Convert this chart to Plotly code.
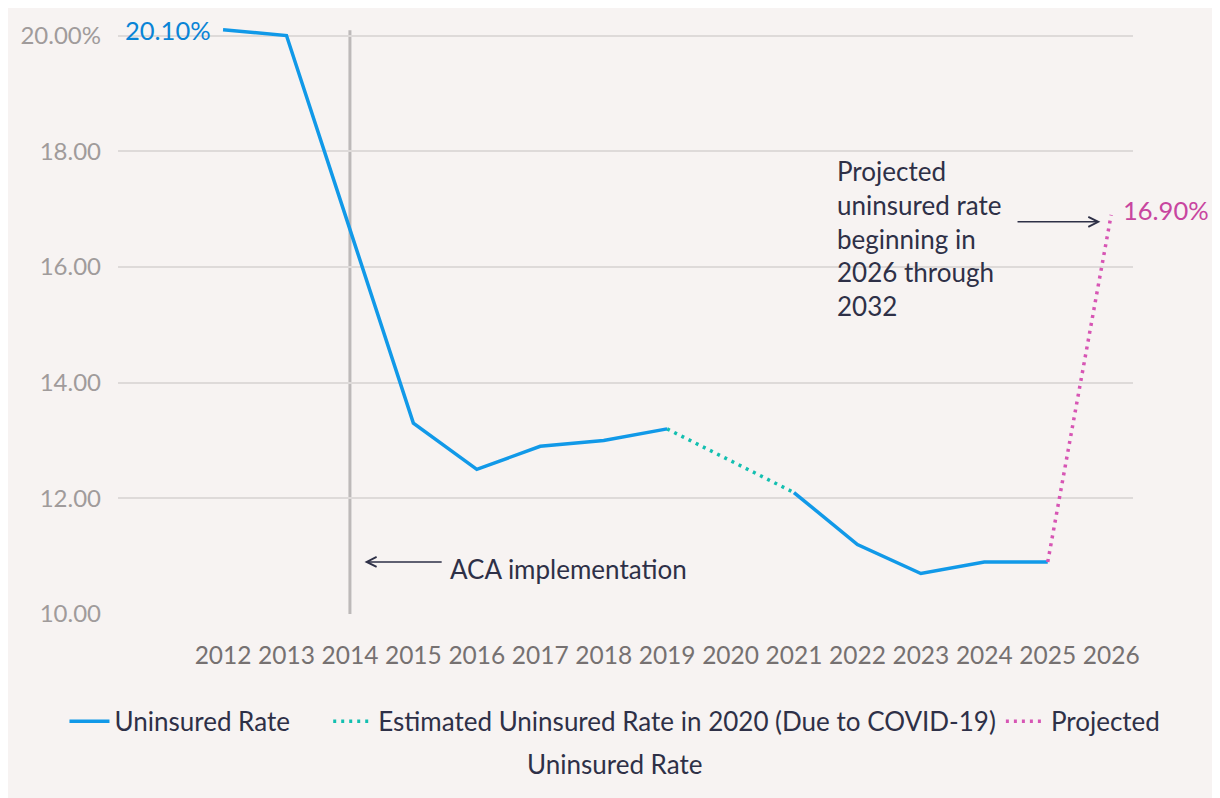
import plotly.graph_objects as go

years = [2012, 2013, 2014, 2015, 2016, 2017, 2018, 2019, 2020, 2021, 2022, 2023, 2024, 2025, 2026]
uninsured_years = [2012, 2013, 2014, 2015, 2016, 2017, 2018, 2019]
uninsured_vals = [20.1, 20.0, 16.65, 13.3, 12.5, 12.9, 13.0, 13.2]
uninsured_years2 = [2021, 2022, 2023, 2024, 2025]
uninsured_vals2 = [12.1, 11.2, 10.7, 10.9, 10.9]
covid_years = [2019, 2020, 2021]
covid_vals = [13.2, 12.65, 12.1]
proj_years = [2025, 2026]
proj_vals = [10.9, 16.9]
ytick_vals = [10, 12, 14, 16, 18, 20]
ytick_text = ["10.00", "12.00", "14.00", "16.00", "18.00", "20.00%"]
aca_year = 2014

FONT = "Lato"
BLUE = "#1199e8"
TEAL = "#13bfb0"
PINK = "#d755b4"
DARK = "#2e3047"
BG = "#f7f3f2"
GAP = "\u00a0" * 5

W, H = 1212, 790
ML, MR, MT, MB = 101, 87, 13, 184
PW = W - ML - MR
PH = H - MT - MB

fig = go.Figure()
fig.add_trace(go.Scatter(x=uninsured_years, y=uninsured_vals, mode="lines", name="Uninsured Rate" + GAP,
                         line=dict(color=BLUE, width=3.5), legendgroup="u"))
fig.add_trace(go.Scatter(x=uninsured_years2, y=uninsured_vals2, mode="lines", name="Uninsured Rate",
                         line=dict(color=BLUE, width=3.5), legendgroup="u", showlegend=False))
fig.add_trace(go.Scatter(x=covid_years, y=covid_vals, mode="lines",
                         name="Estimated Uninsured Rate in 2020 (Due to COVID-19)",
                         line=dict(color=TEAL, width=3.5, dash="3px,5px")))
fig.add_trace(go.Scatter(x=proj_years, y=proj_vals, mode="lines", name="Projected",
                         line=dict(color=PINK, width=3.5, dash="3px,5px")))

fig.add_shape(type="line", x0=aca_year, x1=aca_year, y0=10, y1=20.09, xref="x", yref="y",
              line=dict(color="#bdb9b9", width=3), layer="below")

# value labels
fig.add_annotation(x=uninsured_years[0], y=uninsured_vals[0], text=f"{uninsured_vals[0]:.2f}%",
                   showarrow=False, xanchor="right", xshift=-10, yanchor="middle",
                   font=dict(family=FONT, size=25.5, color="#0a84d6"))
fig.add_annotation(x=proj_years[-1], y=proj_vals[-1], text=f"{proj_vals[-1]:.2f}%",
                   showarrow=False, xanchor="left", xshift=10, yanchor="middle", yshift=5,
                   font=dict(family=FONT, size=25.5, color="#c8459f"))

# ACA annotation
fig.add_annotation(x=2014.23, y=10.9, ax=2015.47, ay=10.9, axref="x", ayref="y", xref="x", yref="y",
                   text="", showarrow=True, arrowhead=5, arrowsize=1.3, arrowwidth=1.5, arrowcolor=DARK)
fig.add_annotation(x=2015.55, y=10.77, text="ACA implementation", showarrow=False, xanchor="left",
                   yanchor="middle", font=dict(family=FONT, size=26, color=DARK))

# Projected annotation
fig.add_annotation(x=2025.83, y=16.78, ax=2024.5, ay=16.78, axref="x", ayref="y", xref="x", yref="y",
                   text="", showarrow=True, arrowhead=5, arrowsize=1.3, arrowwidth=1.5, arrowcolor=DARK)
fig.add_annotation(x=2021.65, y=16.49, text="Projected<br>uninsured rate<br>beginning in<br>2026 through<br>2032",
                   showarrow=False, xanchor="left", yanchor="middle", align="left",
                   font=dict(family=FONT, size=26, color=DARK))

# second line of legend label (page center)
fig.add_annotation(x=(610 - 8 - ML) / PW, y=(MT + PH - (765 - 8)) / PH, xref="paper", yref="paper",
                   text="Uninsured Rate", showarrow=False, xanchor="center", yanchor="middle",
                   font=dict(family=FONT, size=26, color=DARK))

fig.update_layout(
    width=W, height=H,
    paper_bgcolor=BG, plot_bgcolor=BG,
    margin=dict(l=ML, r=MR, t=MT, b=MB),
    font=dict(family=FONT, color=DARK),
    showlegend=True,
    legend=dict(orientation="h", xref="paper", yref="paper", x=(55 - 8 - ML) / PW, xanchor="left",
                y=(MT + PH - (722 - 8)) / PH, yanchor="middle", font=dict(family=FONT, size=26, color=DARK),
                bgcolor="rgba(0,0,0,0)", itemwidth=40, tracegroupgap=0),
    xaxis=dict(range=[2010.344, 2026.344], tickvals=years, ticktext=[str(y) for y in years],
               showgrid=False, zeroline=False, showline=False, ticks="",
               tickfont=dict(family=FONT, size=24.5, color="#767171"), ticklabelstandoff=24),
    yaxis=dict(range=[10, 20.2], tickvals=ytick_vals, ticktext=ytick_text, showgrid=True,
               gridcolor="#dedad9", gridwidth=1.5, zeroline=False, showline=False, ticks="",
               tickfont=dict(family=FONT, size=24, color="#a09b9b"), ticklabelstandoff=16),
    hovermode=False,
)

fig.write_html("out.html")
